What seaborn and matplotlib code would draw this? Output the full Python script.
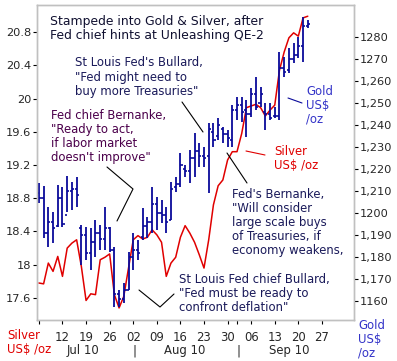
import numpy as np
import pandas as pd
import matplotlib
matplotlib.use("Agg")
import matplotlib.pyplot as plt
from matplotlib.lines import Line2D
import seaborn as sns

# --- data: trading days from Mon 5 Jul 2010 ---
dates = pd.bdate_range("2010-07-05", periods=58)

silver = [17.78, 17.77, 18.02, 17.92, 18.10, 17.86, 18.20, 18.26, 18.30, 17.98,
          17.57, 17.65, 17.64, 18.06, 18.09, 18.13, 17.64, 17.48, 17.62, 17.96,
          18.30, 18.35, 18.31, 18.33, 18.42, 18.36, 18.27, 17.86, 18.02, 18.09,
          18.33, 18.47, 18.38, 18.27, 18.12, 17.96, 18.30, 18.72, 18.95, 19.02,
          19.26, 19.36, 19.36, 19.58, 19.89, 19.91, 19.93, 19.89, 19.79, 19.86,
          19.92, 20.34, 20.56, 20.73, 20.79, 20.75, 20.97, 20.99]

gold_high = [1213.6, 1212.3, 1202.7, 1200.5, 1212.7, 1211.8, 1216.8, 1214.0, 1216.4, 1194.5,
             1193.6, 1193.2, 1196.8, 1194.5, 1202.7, 1193.6, 1184.5, 1165.0, 1168.2, 1182.3,
             1190.9, 1187.7, 1202.3, 1198.2, 1211.8, 1207.3, 1205.9, 1202.7, 1214.0, 1216.4,
             1227.3, 1221.8, 1228.6, 1236.4, 1231.8, 1230.0, 1240.9, 1240.9, 1243.2, 1239.1,
             1237.7, 1249.1, 1252.7, 1252.7, 1251.4, 1256.8, 1261.8, 1257.3, 1250.0, 1250.0,
             1248.2, 1273.2, 1270.9, 1275.0, 1277.3, 1280.0, 1289.0, 1287.7]
gold_low = [1204.5, 1188.6, 1184.5, 1186.4, 1193.6, 1193.6, 1200.5, 1201.4, 1202.7, 1176.4,
            1178.6, 1174.1, 1180.0, 1183.2, 1183.2, 1182.3, 1157.3, 1157.3, 1159.0, 1165.0,
            1174.1, 1178.6, 1187.7, 1188.6, 1190.9, 1192.3, 1195.5, 1190.9, 1196.8, 1209.5,
            1211.8, 1216.4, 1213.6, 1216.4, 1220.9, 1220.9, 1209.1, 1230.0, 1233.2, 1231.8,
            1230.0, 1230.0, 1242.3, 1241.4, 1234.5, 1243.6, 1246.8, 1248.2, 1237.7, 1242.3,
            1243.2, 1242.3, 1261.8, 1263.6, 1268.2, 1270.5, 1268.6, 1284.1]
gold_open = [1209, 1207, 1191, 1196, 1194, 1207, 1199, 1210, 1211, 1193,
             1190, 1182, 1187, 1191, 1188, 1193, 1183, 1163, 1161, 1165,
             1180, 1183, 1189, 1194, 1196, 1204, 1200, 1199, 1197, 1212,
             1213, 1220, 1219, 1225, 1228, 1226, 1226, 1237, 1235, 1238,
             1236, 1233, 1247, 1249, 1247, 1245, 1254, 1250, 1246, 1245,
             1244, 1244, 1266, 1265, 1270, 1272, 1276, 1285]
gold_close = [1207, 1191, 1196, 1193, 1207, 1195, 1210, 1211, 1208, 1190,
              1182, 1187, 1191, 1188, 1193, 1183, 1163, 1161, 1165, 1180,
              1183, 1182, 1194, 1196, 1204, 1200, 1199, 1196, 1211, 1213,
              1222, 1219, 1225, 1228, 1226, 1225, 1238, 1233, 1240, 1236,
              1234, 1247, 1249, 1246, 1245, 1254, 1248, 1254, 1245, 1243,
              1244, 1266, 1264, 1270, 1272, 1276, 1285, 1286]

silver_ticks = [17.6, 18, 18.4, 18.8, 19.2, 19.6, 20, 20.4, 20.8]
silver_tick_labels = ["17.6", "18", "18.4", "18.8", "19.2", "19.6", "20", "20.4", "20.8"]
gold_ticks = [1160, 1170, 1180, 1190, 1200, 1210, 1220, 1230, 1240, 1250, 1260, 1270, 1280]
gold_tick_labels = ["1160", "1,170", "1,180", "1,190", "1200", "1,210", "1,220",
                    "1,230", "1,240", "1,250", "1,260", "1270", "1280"]
week_labels = ["", "12", "19", "26", "02", "09", "16", "23", "30", "06", "13", "20", "27"]
month_labels = ["Jul 10", "Aug 10", "Sep 10"]

df = pd.DataFrame({"day": np.arange(len(dates)), "silver": silver})
x = df["day"].values

W, H = 397, 361
def fx(p):
    return p / W
def fy(p):
    return 1 - p / H

sns.set_style("white")
plt.rcParams["font.family"] = ["DejaVu Sans"]
plt.rcParams["font.size"] = 8

fig = plt.figure(figsize=(W / 100, H / 100), dpi=100)
ax = fig.add_axes([fx(37), fy(320), (354 - 37) / W, (320 - 5) / H])
ax2 = ax.twinx()

RED = "#e00000"
NAVY = "#0a0a9a"

# silver line (left axis)
sns.lineplot(data=df, x="day", y="silver", ax=ax, color=RED, lw=1.1)

# gold OHLC bars (right axis)
ax2.vlines(x, gold_low, gold_high, color=NAVY, lw=1.3)
ax2.hlines(gold_open, x - 0.45, x, color=NAVY, lw=1.2)
ax2.hlines(gold_close, x, x + 0.45, color=NAVY, lw=1.2)

ax.set_xlim(-0.4, 66.8)
ax.set_ylim(17.335, 21.125)
ax2.set_ylim(1151.4, 1294.5)

ax.set_yticks(silver_ticks)
ax.set_yticklabels(silver_tick_labels)
ax2.set_yticks(gold_ticks)
ax2.set_yticklabels(gold_tick_labels)
ax.set_xticks(np.arange(len(week_labels)) * 5)
ax.set_xticklabels(week_labels)
ax.set_xticks([42], minor=True)
ax.set_xlabel("")
ax.set_ylabel("")

for a in (ax, ax2):
    for s in a.spines.values():
        s.set_color("#c0c0c0")
        s.set_linewidth(1)
ax.tick_params(axis="y", direction="out", length=3, width=0.8, color="black",
               labelsize=8.2, pad=1, left=True)
ax2.tick_params(axis="y", direction="out", length=3, width=0.8, color="black",
                labelsize=8.2, pad=1, right=True)
ax.tick_params(axis="x", which="both", direction="out", length=3, width=0.8,
               color="black", labelsize=8.4, pad=5, bottom=True)

# month row under the day labels
xt = ax.get_xaxis_transform()
for pos, lab in zip([9.3, 31, 53], month_labels):
    ax.text(pos, -0.097, lab, transform=xt, ha="center", va="center", fontsize=8.4)
for pos in [20.3, 42.4]:
    ax.text(pos, -0.097, "|", transform=xt, ha="center", va="center", fontsize=8.4)

# titles and notes
ANN = "#1a1a5a"
FS = 8.4
fig.text(fx(50), fy(15), "Stampede into Gold & Silver, after\nFed chief hints at Unleashing QE-2",
         color="#101030", va="top", fontsize=8.9, linespacing=1.1)
fig.text(fx(75), fy(56), "St Louis Fed's Bullard,\n\"Fed might need to\nbuy more Treasuries\"",
         color=ANN, va="top", fontsize=FS, linespacing=1.15)
fig.text(fx(51), fy(109), "Fed chief Bernanke,\n\"Ready to act,\nif labor market\ndoesn't improve\"",
         color="#4b004b", va="top", fontsize=FS, linespacing=1.1)
fig.text(fx(306), fy(85), "Gold\nUS$\n/oz", color="#3434c8", va="top", fontsize=FS,
         linespacing=1.1)
fig.text(fx(274), fy(145), "Silver\nUS$ /oz", color=RED, va="top", fontsize=FS,
         linespacing=1.1)
fig.text(fx(232), fy(188), "Fed's Bernanke,\n\"Will consider\nlarge scale buys\nof Treasuries, if\neconomy weakens,",
         color=ANN, va="top", fontsize=FS, linespacing=1.1)
fig.text(fx(179), fy(273), "St Louis Fed chief Bullard,\n\"Fed must be ready to\nconfront deflation\"",
         color=ANN, va="top", fontsize=FS, linespacing=1.12)
fig.text(fx(7), fy(329), "Silver\nUS$ /oz", color=RED, va="top", fontsize=FS, linespacing=1.1)
fig.text(fx(358), fy(319), "Gold\nUS$\n/oz", color="#3434c8", va="top", fontsize=FS,
         linespacing=1.1)

# leader lines
leaders = [
    ([182, 203], [102, 132], "black"),
    ([107, 133, 117], [167, 189, 221], "black"),
    ([288, 302], [98, 103], "#0a0a9a"),
    ([246, 265], [151, 155], RED),
    ([227, 247], [153, 183], "black"),
    ([139, 160, 174], [290, 307, 294], "black"),
]
for xs, ys, c in leaders:
    fig.add_artist(Line2D([fx(v) for v in xs], [fy(v) for v in ys],
                          transform=fig.transFigure, color=c, lw=0.8))

fig.savefig("out.png", dpi=100)
